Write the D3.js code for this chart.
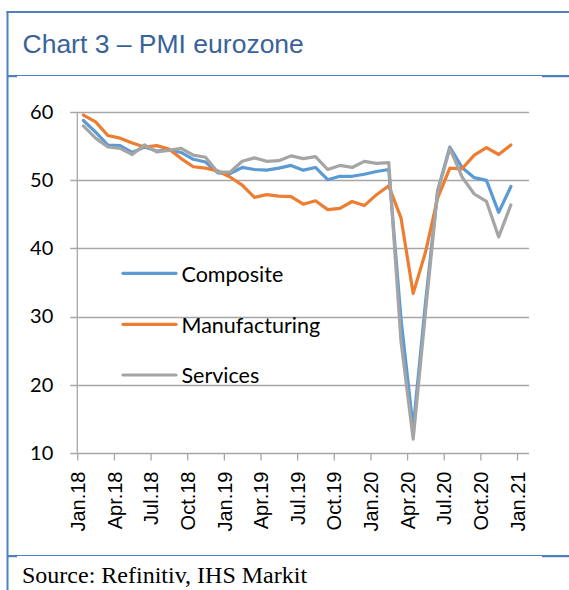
<!DOCTYPE html>
<html><head><meta charset="utf-8">
<script src="https://cdn.jsdelivr.net/npm/d3@7"></script>
<style>
html,body{margin:0;padding:0;background:#fff;}
svg{display:block;}
</style></head>
<body>
<svg id="c" width="569" height="590"></svg>
<script>
// ---- data ----
const months = ["Jan.18","Feb.18","Mar.18","Apr.18","May.18","Jun.18","Jul.18","Aug.18","Sep.18","Oct.18","Nov.18","Dec.18",
"Jan.19","Feb.19","Mar.19","Apr.19","May.19","Jun.19","Jul.19","Aug.19","Sep.19","Oct.19","Nov.19","Dec.19",
"Jan.20","Feb.20","Mar.20","Apr.20","May.20","Jun.20","Jul.20","Aug.20","Sep.20","Oct.20","Nov.20","Dec.20"];
const composite = [58.8,57.1,55.2,55.1,54.1,54.9,54.3,54.5,54.1,53.1,52.7,51.1,
51.0,51.9,51.6,51.5,51.8,52.2,51.5,51.9,50.1,50.6,50.6,50.9,
51.3,51.6,29.7,13.6,31.9,48.5,54.9,51.9,50.4,50.0,45.3,49.1];
const manufacturing = [59.6,58.6,56.6,56.2,55.5,54.9,55.1,54.6,53.2,52.0,51.8,51.4,
50.5,49.3,47.5,47.9,47.7,47.6,46.5,47.0,45.7,45.9,46.9,46.3,
47.9,49.2,44.5,33.4,39.4,47.4,51.8,51.7,53.7,54.8,53.8,55.2];
const services = [58.0,56.2,54.9,54.7,53.8,55.2,54.2,54.4,54.7,53.7,53.4,51.2,
51.2,52.8,53.3,52.8,52.9,53.6,53.2,53.5,51.6,52.2,51.9,52.8,
52.5,52.6,26.4,12.0,30.5,48.3,54.7,50.5,48.0,46.9,41.7,46.4];
const seriesNames = ["Composite","Manufacturing","Services"];
const xTickLabels = ["Jan.18","Apr.18","Jul.18","Oct.18","Jan.19","Apr.19","Jul.19","Oct.19","Jan.20","Apr.20","Jul.20","Oct.20","Jan.21"];
const yTicks = [10,20,30,40,50,60];
const title = "Chart 3 – PMI eurozone";
const source = "Source: Refinitiv, IHS Markit";

// ---- layout ----
const svg = d3.select("#c");
const frameColor = "#4f81bd";
const colors = ["#5b9bd5","#ed7d31","#a5a5a5"];
const pLeft = 77.3, pRight = 517, gridRight = 529;
const pTop = 112.3, pBottom = 452.7;

// frame
svg.append("line").attr("x1",7.5).attr("x2",7.5).attr("y1",11).attr("y2",590).attr("stroke",frameColor).attr("stroke-width",2);
svg.append("line").attr("x1",6.5).attr("x2",569).attr("y1",12).attr("y2",12).attr("stroke",frameColor).attr("stroke-width",2);
[75.5,555.5].forEach(yy=>{
  svg.append("line").attr("x1",7).attr("x2",569).attr("y1",yy).attr("y2",yy).attr("stroke",frameColor).attr("stroke-width",1);
  svg.append("line").attr("x1",7).attr("x2",17).attr("y1",yy+1).attr("y2",yy+1).attr("stroke",frameColor).attr("stroke-width",1.5);
  svg.append("line").attr("x1",542).attr("x2",569).attr("y1",yy+1).attr("y2",yy+1).attr("stroke",frameColor).attr("stroke-width",1.5);
});

svg.append("text").attr("x",22.5).attr("y",52.5).text(title)
  .attr("font-family","'Liberation Sans', Arial, sans-serif").attr("font-size",26.5).attr("fill","#386399");

svg.append("text").attr("x",22).attr("y",582.5).text(source)
  .attr("font-family","'Liberation Serif', 'Times New Roman', serif").attr("font-size",24).attr("fill","#000");

// scales
const x = d3.scaleLinear().domain([0,36]).range([pLeft,pRight]);
const y = d3.scaleLinear().domain([10,60]).range([pBottom,pTop]);

// gridlines
svg.append("g").selectAll("line").data(yTicks).join("line")
  .attr("x1",pLeft-7).attr("x2",gridRight)
  .attr("y1",d=>Math.round(y(d))+0.5).attr("y2",d=>Math.round(y(d))+0.5)
  .attr("stroke","#a6a6a6").attr("stroke-width",1.3);

// y axis
const ya = svg.append("g").attr("transform",`translate(${pLeft},0)`)
  .call(d3.axisLeft(y).tickValues(yTicks).tickSize(0).tickPadding(24).tickFormat(d3.format("d")));
ya.select(".domain").remove();
ya.selectAll("text").attr("font-family","Lato, 'Noto Sans', sans-serif").attr("font-size",20).attr("fill","#000");
svg.append("line").attr("x1",pLeft).attr("x2",pLeft).attr("y1",pTop).attr("y2",pBottom)
  .attr("stroke","#a6a6a6").attr("stroke-width",1.3);

// x axis
const xa = svg.append("g").attr("transform",`translate(0,${Math.round(pBottom)+0.5})`)
  .call(d3.axisBottom(x).tickValues(d3.range(0,37,3)).tickSize(7).tickSizeOuter(0)
    .tickFormat((d,i)=>xTickLabels[i]));
xa.select(".domain").remove();
xa.selectAll(".tick line").attr("stroke","#a6a6a6").attr("stroke-width",1.3);
xa.selectAll("text")
  .attr("font-family","'Liberation Sans', Arial, sans-serif").attr("font-size",20).attr("fill","#000")
  .attr("transform","rotate(-90)").attr("text-anchor","end")
  .attr("x",-18).attr("y",0).attr("dy","0.36em");

// lines
const allSeries = [composite, manufacturing, services];
const line = d3.line().x((d,i)=>x(i+0.5)).y(d=>y(d));
svg.append("g").selectAll("path").data(allSeries).join("path")
  .attr("d",d=>line(d)).attr("fill","none")
  .attr("stroke",(d,i)=>colors[i]).attr("stroke-width",3.2)
  .attr("stroke-linejoin","round").attr("stroke-linecap","round");

// legend
const legY = [273.3,324.3,375];
const lg = svg.append("g");
seriesNames.forEach((n,i)=>{
  lg.append("line").attr("x1",123).attr("x2",176).attr("y1",legY[i]).attr("y2",legY[i])
    .attr("stroke",colors[i]).attr("stroke-width",3.2).attr("stroke-linecap","round");
  lg.append("text").attr("x",181.5).attr("y",legY[i]+8.4).text(n)
    .attr("font-family","Lato, 'Noto Sans', sans-serif").attr("font-size",21.5).attr("fill","#000");
});
</script>
</body></html>
